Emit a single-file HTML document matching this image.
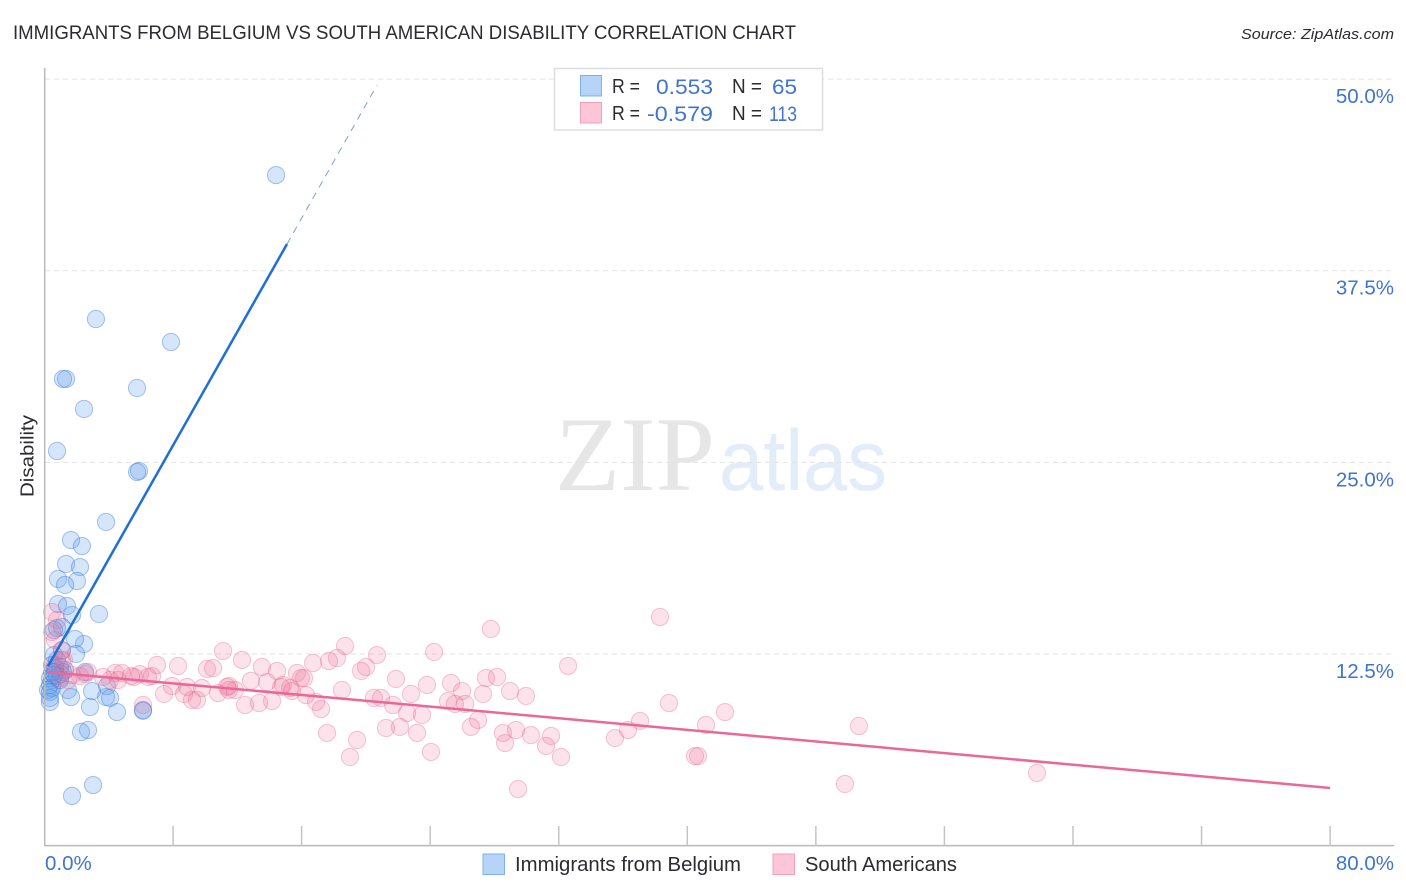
<!DOCTYPE html>
<html lang="en">
<head>
<meta charset="utf-8">
<title>Immigrants from Belgium vs South American Disability Correlation Chart</title>
<style>
html,body{margin:0;padding:0;background:#fff;width:1406px;height:892px;overflow:hidden}
svg{display:block}
text{font-family:"Liberation Sans",sans-serif}
.val{fill:#3f74cf}
.dark{fill:#2b2b30}
</style>
</head>
<body>
<svg id="chart" xmlns="http://www.w3.org/2000/svg" width="1406" height="892" viewBox="0 0 1406 892">
  <rect x="0" y="0" width="1406" height="892" fill="#ffffff"/>
  <text x="13" y="39" font-size="19" class="dark" textLength="783" lengthAdjust="spacingAndGlyphs">IMMIGRANTS FROM BELGIUM VS SOUTH AMERICAN DISABILITY CORRELATION CHART</text>
  <text x="1394" y="39" font-size="15" font-style="italic" text-anchor="end" class="dark" textLength="153" lengthAdjust="spacingAndGlyphs">Source: ZipAtlas.com</text>
  <g>
    <text x="555" y="490" font-size="106" fill="#e6e6e6" style="font-family:'Liberation Serif',serif" textLength="160" lengthAdjust="spacingAndGlyphs">ZIP</text>
    <text x="719" y="490" font-size="86" fill="#e3ecf9" textLength="168" lengthAdjust="spacingAndGlyphs">atlas</text>
  </g>
  <g id="grid"></g>
  <g id="blue-points"></g>
  <g id="pink-points"></g>
  <g id="trends"></g>
  <g id="axes"></g>
  <g id="y-labels"></g>
  <g id="x-labels"></g>
  <text transform="translate(33.5 456) rotate(-90)" font-size="18.5" text-anchor="middle" class="dark" textLength="82" lengthAdjust="spacingAndGlyphs">Disability</text>

  <g>
    <rect x="554.5" y="68.5" width="268" height="61.5" fill="#ffffff" stroke="#dddddd" stroke-width="1.5"/>
    <rect x="580.5" y="75.5" width="21" height="20.5" fill="#b6d3f8" stroke="#7fb0ea" stroke-width="1"/>
    <rect x="580.5" y="102.5" width="21" height="20.5" fill="#fdc6d8" stroke="#f0a0bc" stroke-width="1"/>
    <text x="612" y="93" font-size="20" class="dark" textLength="28" lengthAdjust="spacingAndGlyphs">R =</text>
    <text x="656" y="94" font-size="21.5" class="val" textLength="57" lengthAdjust="spacingAndGlyphs">0.553</text>
    <text x="732" y="93" font-size="20" class="dark" textLength="30" lengthAdjust="spacingAndGlyphs">N =</text>
    <text x="772" y="94" font-size="21.5" class="val" textLength="25" lengthAdjust="spacingAndGlyphs">65</text>
    <text x="612" y="120" font-size="20" class="dark" textLength="28" lengthAdjust="spacingAndGlyphs">R =</text>
    <text x="647" y="121" font-size="21.5" class="val" textLength="66" lengthAdjust="spacingAndGlyphs">-0.579</text>
    <text x="732" y="120" font-size="20" class="dark" textLength="30" lengthAdjust="spacingAndGlyphs">N =</text>
    <text x="769" y="121" font-size="21.5" class="val" textLength="28" lengthAdjust="spacingAndGlyphs">113</text>
  </g>

  <g>
    <rect x="483" y="854" width="21.5" height="20.5" fill="#b6d3f8" stroke="#7fb0ea" stroke-width="1"/>
    <text x="515" y="871" font-size="20" class="dark" textLength="226" lengthAdjust="spacingAndGlyphs">Immigrants from Belgium</text>
    <rect x="773" y="854" width="21.5" height="20.5" fill="#fdc6d8" stroke="#f0a0bc" stroke-width="1"/>
    <text x="805" y="871" font-size="20" class="dark" textLength="152" lengthAdjust="spacingAndGlyphs">South Americans</text>
  </g>
</svg>
<script>
const belgiumX = [14.41,3.20,7.87,1.34,1.15,5.76,2.46,0.78,5.88,5.76,3.83,1.65,2.33,1.34,2.21,0.84,2.02,1.28,0.84,1.40,1.71,3.39,1.09,0.78,0.59,2.46,1.90,1.96,1.09,0.59,0.78,0.47,0.96,1.28,0.65,0.34,0.47,2.52,0.78,1.03,0.34,0.47,0.22,0.34,1.46,1.65,2.96,3.89,3.83,4.08,2.83,4.51,6.13,6.13,2.71,2.27,3.02,1.71,0.34,0.34,1.15,0.96,0.65,0.47,0.59];
const belgiumY = [43.74,34.35,32.85,30.44,30.44,29.85,28.48,25.74,24.44,24.37,21.11,19.93,19.54,18.37,18.17,17.39,17.26,17.00,15.76,15.63,15.04,15.11,14.26,14.19,14.06,13.15,13.48,12.50,12.76,12.43,12.11,11.78,11.65,11.45,11.32,10.93,10.80,11.32,11.06,11.19,10.48,10.28,10.15,10.02,10.15,9.69,10.08,10.41,9.69,9.63,9.04,8.71,8.85,8.79,7.54,7.41,3.95,3.24,9.37,9.63,11.32,10.80,11.58,11.32,11.13];
const southAmericanX = [38.30,27.78,18.70,24.24,20.69,11.11,18.20,17.70,12.29,16.71,13.53,20.01,19.70,32.58,7.00,8.31,10.11,10.49,14.47,15.71,15.96,21.87,25.30,27.47,28.16,23.80,25.98,28.97,29.96,27.29,22.81,18.51,20.50,20.94,21.69,25.11,25.54,26.17,38.86,42.35,23.49,22.56,16.90,17.21,12.48,13.35,14.16,37.06,36.31,41.16,50.68,26.98,26.54,21.25,22.12,23.18,17.58,19.45,19.01,24.05,29.34,28.53,28.66,30.27,31.21,31.52,32.14,35.50,40.48,40.67,49.81,61.76,29.47,4.39,4.82,5.38,5.94,6.44,6.69,5.57,3.64,4.08,2.52,2.71,2.21,1.71,1.46,0.96,0.65,1.09,0.65,0.47,0.78,0.47,7.44,7.93,8.87,9.80,8.68,9.49,10.80,11.48,11.85,11.36,14.84,15.28,14.72,16.27,15.40,6.13,1.09,1.21,12.85,13.85,11.48,16.15,9.18,4.57];
const southAmericanY = [14.91,14.13,13.02,12.63,12.43,12.69,12.24,12.04,12.11,11.91,11.65,11.65,11.39,11.72,11.78,11.72,11.52,11.58,11.39,11.26,10.93,10.87,10.61,10.93,11.00,10.48,10.08,10.08,9.76,9.89,9.89,10.15,9.63,9.63,9.17,9.43,9.24,9.24,9.30,8.71,8.52,8.65,9.37,8.91,9.17,9.30,9.43,8.13,7.54,7.87,7.80,8.19,7.74,7.67,7.74,7.35,7.35,6.89,5.78,6.11,7.54,7.35,6.69,7.21,6.50,7.15,5.78,7.02,5.84,5.84,4.02,4.74,3.69,11.26,11.26,11.06,11.19,11.00,11.06,11.00,11.00,10.80,11.19,11.32,11.06,11.13,10.80,10.93,11.78,12.11,13.41,13.93,14.72,15.24,9.89,10.41,10.35,10.28,9.89,9.50,9.95,10.41,10.15,10.35,10.48,10.28,10.35,9.82,10.08,9.17,12.70,12.11,10.75,10.67,10.15,10.93,9.50,10.80];
const belgiumTrendX = [0.22,15.09];
const belgiumTrendY = [11.70,39.24];
const belgiumExtensionX = [15.09,20.69];
const belgiumExtensionY = [39.24,49.61];
const southAmericanTrendX = [0.22,80.0];
const southAmericanTrendY = [11.32,3.76];
const yTicks = [50,37.5,25,12.5];
const yTickLabels = ["50.0%","37.5%","25.0%","12.5%"];
const xTicks = [8,16,24,32,40,48,56,64,72,80];

const NS = "http://www.w3.org/2000/svg";
function xScale(v){return 44.5 + v*16.07;}
function yScale(v){return 845.6 - v*15.33;}
function make(tag,attrs,parent){
  const el = document.createElementNS(NS,tag);
  for(const k in attrs){el.setAttribute(k,attrs[k]);}
  parent.appendChild(el);
  return el;
}

const grid = document.getElementById("grid");
yTicks.forEach(function(t){
  const l = make("line",{x1:45,x2:1394,y1:yScale(t),y2:yScale(t),stroke:"#e2e2e2","stroke-width":1,"stroke-dasharray":"5 4"},grid);
  
  
});

const bluePts = document.getElementById("blue-points");
belgiumX.forEach(function(x,i){
  const c = make("circle",{cx:xScale(x),cy:yScale(belgiumY[i]),r:8.6,fill:"rgba(100,160,235,0.27)",stroke:"rgba(50,120,215,0.42)","stroke-width":1},bluePts);
  
  
});

const pinkPts = document.getElementById("pink-points");
southAmericanX.forEach(function(x,i){
  const c = make("circle",{cx:xScale(x),cy:yScale(southAmericanY[i]),r:8.6,fill:"rgba(240,110,150,0.2)",stroke:"rgba(230,100,140,0.36)","stroke-width":1},pinkPts);
  
  
});

const trends = document.getElementById("trends");
const blueLine = make("line",{x1:xScale(belgiumTrendX[0]),y1:yScale(belgiumTrendY[0]),x2:xScale(belgiumTrendX[1]),y2:yScale(belgiumTrendY[1]),stroke:"#1f6fd6","stroke-width":2.5},trends);


const blueExt = make("line",{x1:xScale(belgiumExtensionX[0]),y1:yScale(belgiumExtensionY[0]),x2:xScale(belgiumExtensionX[1]),y2:yScale(belgiumExtensionY[1]),stroke:"#7f9fd4","stroke-width":1,"stroke-dasharray":"7 6"},trends);


const pinkLine = make("line",{x1:xScale(southAmericanTrendX[0]),y1:yScale(southAmericanTrendY[0]),x2:xScale(southAmericanTrendX[1]),y2:yScale(southAmericanTrendY[1]),stroke:"#ea6798","stroke-width":2.5},trends);



const axes = document.getElementById("axes");
const yAxis = make("line",{x1:44.7,x2:44.7,y1:68,y2:846,stroke:"#b9b9b9","stroke-width":1.5},axes);


const xAxis = make("line",{x1:44,x2:1394,y1:845.6,y2:845.6,stroke:"#b9b9b9","stroke-width":1.5},axes);


xTicks.forEach(function(t){
  const m = make("line",{x1:xScale(t),x2:xScale(t),y1:826,y2:846,stroke:"#c4c4c4","stroke-width":1.5},axes);
  
  
});

const yLabels = document.getElementById("y-labels");
yTicks.forEach(function(t,i){
  const el = make("text",{x:1394,y:yScale(t)+24,"font-size":20.5,"text-anchor":"end","class":"val"},yLabels);
  el.textContent = yTickLabels[i];
  
  
});

const xLabels = document.getElementById("x-labels");
const xMin = make("text",{x:45,y:870,"font-size":20.5,"class":"val"},xLabels);
xMin.textContent = "0.0%";


const xMax = make("text",{x:1394,y:870,"font-size":20.5,"text-anchor":"end","class":"val"},xLabels);
xMax.textContent = "80.0%";


</script>
</body>
</html>
